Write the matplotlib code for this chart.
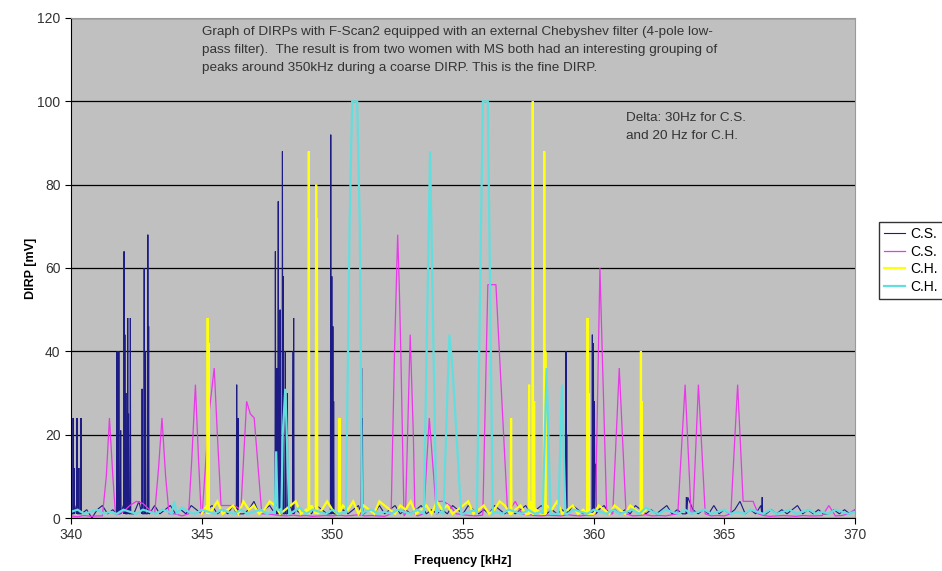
import matplotlib
matplotlib.use("Agg")
from matplotlib import pyplot as plt
import numpy as np

plt.rcParams["font.family"] = ["Liberation Sans", "DejaVu Sans"]

# ---- data ----
labels = ["C.S.", "C.S.", "C.H.", "C.H."]
colors = ["#1c1c84", "#e838e8", "#ffff10", "#62dede"]

# C.S. (navy): baseline noise every 0.2 kHz from 340 to 370, plus narrow spikes
cs1_noise = [1, 3, 1, 2, 0, 2, 3, 1, 2, 1,
             3, 2, 1, 4, 2, 1, 3, 1, 2, 3,
             1, 2, 1, 3, 2, 1, 2, 3, 1, 2,
             1, 3, 2, 1, 2, 4, 1, 2, 3, 1,
             2, 1, 3, 2, 1, 2, 1, 3, 2, 1,
             3, 1, 2, 1, 2, 3, 1, 2, 1, 3,
             1, 2, 3, 1, 2, 1, 2, 3, 1, 2,
             1, 2, 1, 3, 2, 1, 3, 2, 1, 2,
             1, 3, 2, 1, 2, 1, 2, 3, 1, 2,
             3, 1, 2, 1, 2, 1, 3, 2, 1, 2,
             1, 2, 3, 1, 2, 1, 2, 1, 3, 2,
             1, 2, 1, 2, 3, 1, 2, 1, 5, 2,
             1, 2, 1, 3, 1, 2, 1, 2, 4, 1,
             2, 1, 3, 1, 2, 1, 2, 1, 2, 3,
             1, 2, 1, 2, 1, 1, 2, 1, 2, 1,
             2]
cs1_spike_f = [340.08, 340.12, 340.23, 340.30, 340.38,
               341.76, 341.83, 341.90, 342.03, 342.06, 342.10, 342.17, 342.20, 342.27,
               342.72, 342.80, 342.85, 342.94, 342.97,
               346.34, 346.39,
               347.82, 347.88, 347.93, 348.00, 348.09, 348.12, 348.20, 348.28, 348.50, 348.52,
               349.94, 349.98, 350.02, 350.05,
               351.12, 351.15,
               358.94, 358.97,
               359.95, 359.99, 360.03, 360.08,
               363.55, 366.45]
cs1_spike_h = [24, 12, 24, 12, 24,
               40, 40, 21, 64, 44, 30, 48, 25, 48,
               31, 60, 40, 68, 46,
               32, 24,
               64, 36, 76, 50, 88, 58, 40, 30, 40, 48,
               92, 58, 46, 28,
               36, 24,
               40, 20,
               44, 42, 28, 13,
               5, 5]

# C.S. (magenta): baseline every 0.25 kHz, plus peak outlines
cs2_noise = [0.5, 0.3, 0.6, 0.4, 0.5, 0.5, 0.5, 0.8, 1.5, 3,
             4, 3.5, 2, 1, 1, 1, 1, 0.5, 1, 1,
             0.8, 1, 1, 3, 3, 3, 2, 1, 1, 1.5,
             1, 0.8, 0.6, 0.5, 0.7, 0.5, 0.6, 0.4, 0.5, 0.6,
             0.5, 0.7, 0.5, 0.6, 0.8, 0.5, 0.6, 0.5, 0.4, 0.6,
             0.5, 0.5, 0.5, 0.5, 0.5, 4, 4, 4, 3, 1,
             0.8, 0.6, 0.5, 0.7, 0.5, 1, 1, 1.5, 4, 1,
             0.8, 0.6, 0.5, 0.7, 0.6, 0.5, 0.8, 0.6, 0.5, 0.7,
             0.8, 1, 1, 0.7, 0.6, 1, 0.5, 0.6, 0.8, 0.5,
             0.6, 0.5, 0.8, 1, 1, 1, 1, 0.7, 0.5, 0.6,
             0.5, 1, 1, 1, 1, 0.5, 0.6, 0.4, 0.5, 0.6,
             0.5, 0.4, 0.6, 0.5, 0.5, 0.6, 0.8, 0.5, 0.6, 1,
             2]
cs2_peaks = [
    ([341.20, 341.35, 341.47, 341.60, 341.70], [0.5, 10, 24, 10, 1]),
    ([343.20, 343.35, 343.48, 343.62, 343.75], [1, 12, 24, 10, 1]),
    ([344.50, 344.62, 344.76, 344.88, 344.98], [1, 14, 32, 14, 1]),
    ([345.02, 345.28, 345.48, 345.60, 345.74], [1, 25, 36, 20, 3]),
    ([346.50, 346.72, 346.86, 347.01, 347.30], [2, 28, 25, 24, 1]),
    ([352.25, 352.38, 352.50, 352.56, 352.62, 352.74], [1, 40, 68, 56, 40, 1]),
    ([352.80, 352.98, 353.10, 353.16], [1, 44, 20, 1]),
    ([353.50, 353.71, 353.95], [1, 24, 4]),
    ([355.76, 355.95, 356.26, 356.71], [1, 56, 56, 1]),
    ([360.07, 360.24, 360.50], [1, 60, 1]),
    ([360.73, 360.98, 361.24], [1, 36, 1]),
    ([363.22, 363.50, 363.73], [1, 32, 1]),
    ([363.80, 364.01, 364.27], [1, 32, 1]),
    ([365.25, 365.51, 365.72, 366.10, 366.30], [1, 32, 4, 4, 1]),
    ([368.80, 369.00, 369.20], [1, 3, 1]),
]

# C.H. (yellow): baseline every 0.2 kHz from 345 to 362, plus spikes
ch1_noise = [1, 3, 2, 4, 1, 2, 3, 1, 4, 2,
             3, 1, 2, 4, 3, 1, 2, 3, 4, 1,
             2, 3, 1, 2, 4, 2, 1, 3, 2, 4,
             1, 3, 2, 1, 4, 3, 2, 1, 3, 2,
             4, 1, 2, 3, 1, 4, 2, 3, 1, 2,
             3, 4, 1, 2, 3, 1, 2, 4, 3, 1,
             2, 3, 1, 4, 2, 1, 3, 2, 4, 1,
             2, 3, 1, 2, 4, 1, 3, 2, 1, 3,
             2, 1, 3, 2, 1, 2]
ch1_spike_f = [345.23, 345.26, 349.10, 349.38, 349.41, 350.27,
               356.84, 357.53, 357.67, 357.72, 358.11, 358.15,
               359.77, 359.80, 361.81, 361.84]
ch1_spike_h = [48, 42, 88, 80, 72, 24,
               24, 32, 100, 28, 88, 40,
               48, 30, 40, 28]

# C.H. (cyan): baseline every 0.25 kHz, plus peak outlines
ch2_noise = [1.5, 2, 1, 1.5, 2, 1, 1.5, 1, 2, 1.5,
             1, 2, 1.5, 1, 2, 1.5, 1, 2.5, 1.5, 1,
             2, 1.5, 1, 2, 1.5, 1, 2, 1, 1.5, 2,
             1, 1.5, 2, 1, 1.5, 2.5, 1, 2, 1.5, 1,
             2, 1, 1.5, 2, 1, 1.5, 2, 1, 1.5, 1,
             2, 1.5, 1, 2, 1, 1.5, 2, 1, 1.5, 2,
             1, 1.5, 2, 1, 2, 1.5, 1, 2, 1.5, 1,
             2, 1, 1.5, 2, 1, 1.5, 1, 2, 1.5, 1,
             2, 1.5, 1, 2, 1, 1.5, 2, 1, 2.5, 1.5,
             1, 2, 1.5, 1, 2, 1, 1.5, 2, 1, 1.5,
             2, 1, 1.5, 1, 2, 1.5, 1, 2, 1, 1.5,
             2, 1, 1.5, 2, 1, 1.5, 1, 2, 1.5, 1,
             1.5]
ch2_peaks = [
    ([343.85, 343.95, 344.05], [1, 4, 1]),
    ([347.80, 347.85, 347.90], [1, 16, 2]),
    ([348.05, 348.10, 348.20, 348.35], [1, 20, 31, 1]),
    ([350.52, 350.66, 350.76, 350.95, 351.05, 351.14], [1, 70, 100, 100, 70, 1]),
    ([353.50, 353.74, 353.98], [1, 88, 1]),
    ([354.25, 354.48, 354.60, 354.93], [1, 44, 36, 1]),
    ([355.53, 355.76, 355.95, 356.14], [1, 100, 100, 1]),
    ([358.05, 358.20, 358.35], [1, 36, 1]),
    ([358.65, 358.79, 358.92], [1, 32, 1]),
]


def build(base_f, base_v, shapes):
    pts = list(zip(base_f, base_v))
    for sf, sv in shapes:
        pts = [p for p in pts if not (sf[0] <= p[0] <= sf[-1])]
        pts += list(zip(sf, sv))
    pts.sort()
    return [p[0] for p in pts], [p[1] for p in pts]


def spikes(freqs, heights, w=0.015):
    return [([f - w, f, f + w], [1, h, 1]) for f, h in zip(freqs, heights)]


cs1 = build(np.linspace(340, 370, len(cs1_noise)), cs1_noise, spikes(cs1_spike_f, cs1_spike_h))
cs2 = build(np.linspace(340, 370, len(cs2_noise)), cs2_noise, cs2_peaks)
ch1 = build(np.linspace(345, 362, len(ch1_noise)), ch1_noise, spikes(ch1_spike_f, ch1_spike_h))
ch2 = build(np.linspace(340, 370, len(ch2_noise)), ch2_noise, ch2_peaks)

widths = [0.8, 0.9, 1.6, 1.6]

fig = plt.figure(figsize=(9.42, 5.71), dpi=100)
ax = fig.add_axes([0.0754, 0.0928, 0.8322, 0.8757])
ax.set_facecolor("#c0c0c0")

lines = []
for (x, y), c, lw, lab in zip([cs1, cs2, ch1, ch2], colors, widths, labels):
    ln, = ax.plot(x, y, color=c, lw=lw, label=lab, solid_joinstyle="miter")
    lines.append(ln)

ax.set_xlim(340, 370)
ax.set_ylim(0, 120)
ax.set_xticks(range(340, 371, 5))
ax.set_yticks(range(0, 121, 20))
ax.yaxis.grid(True, color="black", lw=0.9)
ax.set_axisbelow(True)
ax.tick_params(labelsize=10, labelcolor="#333333", length=4, direction="out")
for s in ["top", "right"]:
    ax.spines[s].set_color("#9a9a9a")
ax.spines["left"].set_color("black")
ax.spines["bottom"].set_color("black")

ax.set_xlabel("Frequency [kHz]", fontsize=9, fontweight="bold", labelpad=9)
ax.set_ylabel("DIRP [mV]", fontsize=9, fontweight="bold", labelpad=0)

ax.text(0.167, 0.984,
        "Graph of DIRPs with F-Scan2 equipped with an external Chebyshev filter (4-pole low-\n"
        "pass filter).  The result is from two women with MS both had an interesting grouping of\n"
        "peaks around 350kHz during a coarse DIRP. This is the fine DIRP.",
        transform=ax.transAxes, ha="left", va="top", fontsize=9.7, color="#333333",
        linespacing=1.65)
ax.text(0.708, 0.812, "Delta: 30Hz for C.S.\nand 20 Hz for C.H.",
        transform=ax.transAxes, ha="left", va="top", fontsize=9.7, color="#333333",
        linespacing=1.65)

fig.legend(handles=lines, loc="upper left", bbox_to_anchor=(0.933, 0.612),
           borderaxespad=0, fontsize=10, frameon=True, fancybox=False,
           edgecolor="black", handlelength=1.5, borderpad=0.4,
           labelspacing=0.25, handletextpad=0.35)

fig.savefig("out.png", dpi=100)
